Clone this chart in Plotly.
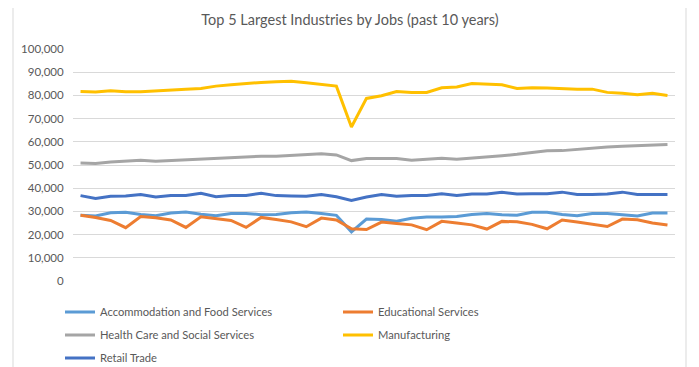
import plotly.graph_objects as go

periods = list(range(40))

accommodation = [28300, 28000, 29400, 29600, 28700, 28100, 29300, 29700, 28800, 28100,
                 29100, 29100, 28600, 28700, 29400, 29700, 29100, 28300, 21200, 26700,
                 26500, 25800, 27000, 27600, 27600, 27800, 28700, 29100, 28600, 28300,
                 29600, 29600, 28700, 28100, 29100, 29100, 28600, 28000, 29300, 29300]

educational = [28300, 27400, 26100, 23000, 27800, 27300, 26300, 23100, 27700, 27000,
               26100, 23100, 27400, 26500, 25500, 23400, 27100, 26300, 22500, 22200,
               25400, 24800, 24200, 22100, 25700, 25000, 24200, 22400, 25700, 25500,
               24400, 22500, 26300, 25400, 24400, 23500, 26700, 26400, 25000, 24100]

health = [50900, 50700, 51300, 51600, 52000, 51600, 51900, 52300, 52750, 52750,
          53300, 53500, 53800, 53800, 54200, 54350, 54800, 54350, 51900, 52750,
          52900, 52750, 52000, 52500, 52900, 52500, 52900, 53500, 54000, 54600,
          55350, 56100, 56200, 56800, 57400, 57800, 58100, 58250, 58550, 58850]

manufacturing = [81700, 81450, 82000, 81600, 81600, 82000, 82600, 82700, 83000, 84000,
                 84600, 85200, 85600, 85900, 86100, 85500, 84900, 84000, 66400, 78700,
                 79850, 81700, 81300, 81300, 83300, 83600, 85100, 84900, 84600, 83000,
                 83300, 83200, 82900, 82700, 82700, 81300, 80900, 80300, 80900, 80000]

retail = [36800, 35600, 36500, 36600, 37300, 36200, 36800, 36900, 37800, 36300,
          36800, 36900, 37800, 36800, 36600, 36500, 37300, 36300, 34700, 36200,
          37300, 36500, 36800, 36900, 37600, 36900, 37500, 37500, 38300, 37500,
          37600, 37600, 38300, 37300, 37300, 37500, 38300, 37300, 37300, 37300]

series_names = ["Accommodation and Food Services", "Educational Services",
                "Health Care and Social Services", "Manufacturing", "Retail Trade"]
series_values = [accommodation, educational, health, manufacturing, retail]
series_colors = ["#5B9BD5", "#ED7D31", "#A5A5A5", "#FFC000", "#4472C4"]
series_legend = ["legend", "legend", "legend2", "legend2", "legend3"]

y_tickvals = list(range(0, 100001, 10000))
y_ticktext = [f"{v:,}" for v in y_tickvals]

fig = go.Figure()
for name, vals, col, lg in zip(series_names, series_values, series_colors, series_legend):
    fig.add_trace(go.Scatter(x=periods, y=vals, mode="lines", name=name, legend=lg,
                             line=dict(color=col, width=3), hoverinfo="skip"))

font_family = "Lato, Open Sans, sans-serif"
grey = "#595959"

# the page puts the figure 8px in from the top-left corner of the window
OFF = 8
FIG_W, FIG_H = 699 - OFF, 367 - OFF


def px_x(px):
    return (px - 73) / 602


def px_y(py):
    return (281 - py) / 232


def legend_row(py):
    return dict(orientation="h", x=px_x(60), xanchor="left", y=px_y(py), yanchor="middle",
                entrywidth=233, entrywidthmode="pixels", itemwidth=30,
                font=dict(family=font_family, size=11.2, color=grey),
                bgcolor="rgba(0,0,0,0)", traceorder="normal")


fig.update_layout(
    width=FIG_W, height=FIG_H,
    margin=dict(l=73 - OFF, r=699 - 675, t=49 - OFF, b=FIG_H - (281 - OFF), autoexpand=False),
    paper_bgcolor="white", plot_bgcolor="white",
    title=dict(text="Top 5 Largest Industries by Jobs (past 10 years)",
               x=(350 - OFF) / FIG_W, xanchor="center", y=1 - (20 - OFF) / FIG_H,
               yanchor="middle",
               font=dict(family=font_family, size=14.5, color=grey)),
    xaxis=dict(range=[-0.5, 39.5], showticklabels=False, showgrid=False,
               zeroline=False, showline=False, ticks=""),
    yaxis=dict(range=[0, 100000], tickvals=y_tickvals, ticktext=y_ticktext,
               showgrid=True, gridcolor="#d9d9d9", gridwidth=1, zeroline=False,
               showline=False, ticks="outside", ticklen=6, tickcolor="rgba(0,0,0,0)",
               tickfont=dict(family=font_family, size=11.5, color=grey)),
    showlegend=True,
    legend=legend_row(312),
    legend2=legend_row(335),
    legend3=legend_row(358),
    shapes=[
        dict(type="line", xref="paper", yref="paper", x0=px_x(13), x1=px_x(13),
             y0=px_y(367), y1=px_y(OFF), line=dict(color="#d9d9d9", width=1)),
        dict(type="line", xref="paper", yref="paper", x0=px_x(686), x1=px_x(686),
             y0=px_y(367), y1=px_y(OFF), line=dict(color="#d9d9d9", width=1)),
    ],
)

fig.write_html("out.html")
